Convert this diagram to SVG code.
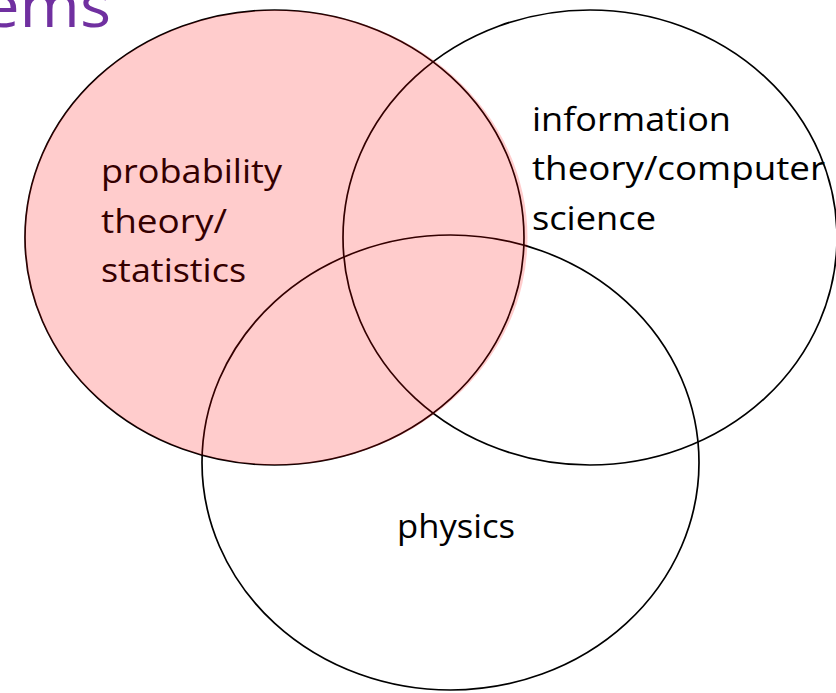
<svg xmlns="http://www.w3.org/2000/svg" width="836" height="693" viewBox="0 0 836 693">
  <style>
    .ring { fill: none; stroke: #000; stroke-width: 1.7; }
    .lbl { font-family: "Open Sans", "Noto Sans", "Liberation Sans", sans-serif; font-size: 33px; fill: #000; }
    .title { font-family: "Open Sans", "Noto Sans", "Liberation Sans", sans-serif; font-size: 60px; font-weight: 400; fill: #7030A0; }
  </style>
  <rect width="836" height="693" fill="#fff"/>
  <text class="title" x="111" y="27" text-anchor="end" textLength="128" lengthAdjust="spacingAndGlyphs">ems</text>
  <g id="probability">
    <ellipse class="ring" cx="274.5" cy="237.5" rx="249.5" ry="227.5"/>
    <text class="lbl" x="101" y="183" textLength="181" lengthAdjust="spacingAndGlyphs">probability</text>
    <text class="lbl" x="101" y="233" textLength="126" lengthAdjust="spacingAndGlyphs">theory/</text>
    <text class="lbl" x="101" y="282" textLength="145" lengthAdjust="spacingAndGlyphs">statistics</text>
  </g>
  <g id="information">
    <ellipse class="ring" cx="590" cy="237.5" rx="247" ry="227.5"/>
    <text class="lbl" x="532" y="131" textLength="199" lengthAdjust="spacingAndGlyphs">information</text>
    <text class="lbl" x="532" y="180" textLength="293" lengthAdjust="spacingAndGlyphs">theory/computer</text>
    <text class="lbl" x="532" y="230" textLength="124" lengthAdjust="spacingAndGlyphs">science</text>
  </g>
  <g id="physics">
    <ellipse class="ring" cx="450.5" cy="462.5" rx="248.5" ry="227.5"/>
    <text class="lbl" x="397" y="538" textLength="118" lengthAdjust="spacingAndGlyphs">physics</text>
  </g>
  <g id="connectors"/>
  <g id="highlight">
    <ellipse cx="276" cy="237.5" rx="251.5" ry="227.5" fill="#ff0000" fill-opacity="0.2"/>
  </g>
</svg>
